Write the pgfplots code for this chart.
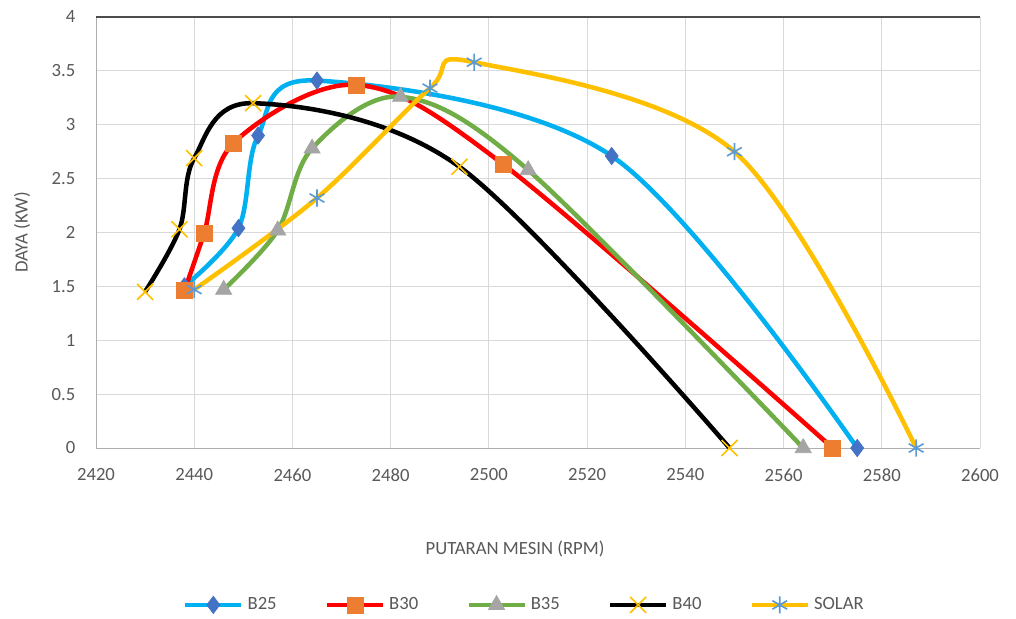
\documentclass[border=0pt]{standalone}
\usepackage{fontspec}
\setmainfont{Carlito}
\usepackage{pgfplots}
\pgfplotsset{compat=1.18}
\definecolor{cB25}{HTML}{00B0F0}
\definecolor{mB25}{HTML}{4472C4}
\definecolor{cB30}{HTML}{FF0000}
\definecolor{mB30}{HTML}{ED7D31}
\definecolor{cB35}{HTML}{70AD47}
\definecolor{mB35}{HTML}{A5A5A5}
\definecolor{cB40}{HTML}{000000}
\definecolor{mB40}{HTML}{FFC000}
\definecolor{cSOL}{HTML}{FFC000}
\definecolor{mSOL}{HTML}{5B9BD5}
\definecolor{txt}{HTML}{595959}
\definecolor{gridc}{HTML}{D9D9D9}
\begin{document}
\begin{tikzpicture}
\useasboundingbox (0,0) rectangle (762pt,463.5pt);
\begin{axis}[
  at={(72pt,127.5pt)}, anchor=south west,
  scale only axis, width=663pt, height=323.25pt,
  xmin=2420, xmax=2600, ymin=0, ymax=4,
  xtick distance=20, ytick distance=0.5,
  grid=major, major grid style={gridc, line width=0.75pt},
  axis x line*=bottom, axis y line*=left,
  axis line style={color=gridc!80!black, line width=0.75pt},
  major tick length=0pt,
  /pgf/number format/assume math mode=true,
  /pgf/number format/set thousands separator={},
  ticklabel style={font=\fontsize{14}{16}\selectfont, text=txt},
  xticklabel style={yshift=-12pt},
  yticklabel style={xshift=-12pt},
  label style={font=\fontsize{14}{16}\selectfont, text=txt},
  xlabel={PUTARAN MESIN (RPM)},
  ylabel={DAYA (KW)},
  xlabel style={at={(axis description cs:0.474,-0.234)}, anchor=center},
  ylabel style={at={(axis description cs:-0.0837,0.5)}, anchor=center},
  legend columns=5,
  legend style={at={(axis description cs:0.485,-0.364)}, anchor=center, draw=none,
     font=\fontsize{14}{16}\selectfont, text=txt, column sep=1pt, inner sep=0pt,
     /tikz/every even column/.append style={column sep=34pt}},
  legend image code/.code={\draw[mark repeat=2,mark phase=2,#1] plot coordinates {(0pt,0pt)(21pt,0pt)(42pt,0pt)};},
  every axis plot/.append style={line width=3.4pt, smooth, tension=0.55},
]
\draw[color=black!70, line width=1pt] (axis cs:2420,4) -- (axis cs:2600,4);
\addplot[cB25, mark=diamond*, mark size=6.5pt, mark options={mB25, fill=mB25, line width=0.5pt, solid}]
  coordinates {(2438,1.50) (2449,2.04) (2453,2.90) (2465,3.41) (2525,2.71) (2575,0)};
\addlegendentry{B25}
\addplot[cB30, mark=square*, mark size=6pt, mark options={mB30, fill=mB30, line width=0.5pt, solid}]
  coordinates {(2438,1.46) (2442,1.99) (2448,2.83) (2473,3.37) (2503,2.63) (2570,0)};
\addlegendentry{B30}
\addplot[cB35, mark=triangle*, mark size=7pt, mark options={mB35, fill=mB35, line width=0.5pt, solid}]
  coordinates {(2446,1.47) (2457,2.02) (2464,2.78) (2482,3.26) (2508,2.58) (2564,0)};
\addlegendentry{B35}
\addplot[cB40, mark=x, mark size=8.5pt, mark options={mB40, line width=1.2pt, solid}]
  coordinates {(2430,1.45) (2437,2.03) (2440,2.69) (2452,3.20) (2494,2.61) (2549,0)};
\addlegendentry{B40}
\addplot[cSOL, mark=asterisk, mark size=6.4pt, mark options={mSOL, line width=1.2pt, solid}]
  coordinates {(2440,1.47) (2465,2.32) (2488,3.34) (2497,3.58) (2550,2.75) (2587,0)};
\addlegendentry{SOLAR}
\end{axis}
\end{tikzpicture}
\end{document}
